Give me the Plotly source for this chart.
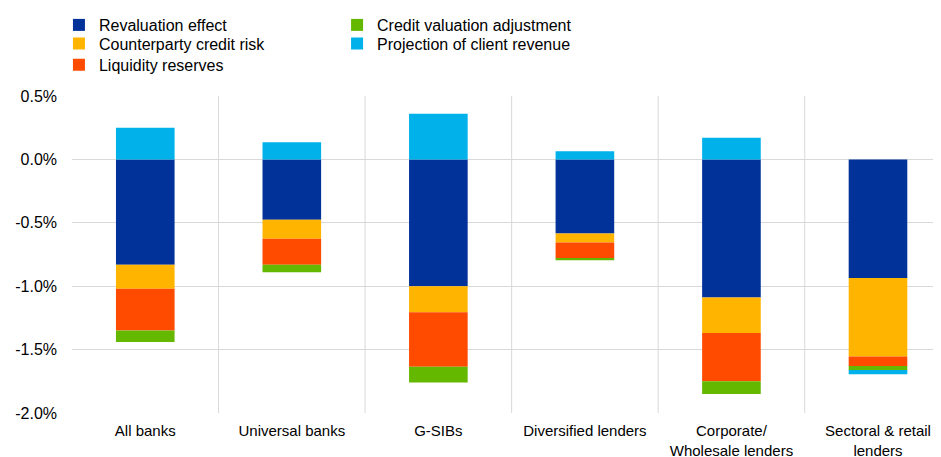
import plotly.graph_objects as go

categories = ["All banks", "Universal banks", "G-SIBs", "Diversified lenders",
              "Corporate/<br>Wholesale lenders", "Sectoral & retail<br>lenders"]
revaluation = [-0.83, -0.475, -1.00, -0.585, -1.09, -0.935]
counterparty = [-0.19, -0.15, -0.205, -0.07, -0.28, -0.62]
liquidity = [-0.33, -0.205, -0.43, -0.125, -0.38, -0.075]
cva = [-0.09, -0.06, -0.125, -0.015, -0.10, -0.03]
projection = [0.25, 0.135, 0.36, 0.065, 0.17, -0.035]
y_ticks = [0.5, 0.0, -0.5, -1.0, -1.5, -2.0]
y_tick_labels = ["0.5%", "0.0%", "-0.5%", "-1.0%", "-1.5%", "-2.0%"]

# (name, values, colour, legend id, legend x, legend y)
series = [
    ("Revaluation effect", revaluation, "#003299", "legend", 0.0546, 1.0105),
    ("Counterparty credit risk", counterparty, "#FFB400", "legend2", 0.0546, 0.9583),
    ("Liquidity reserves", liquidity, "#FF4B00", "legend3", 0.0546, 0.9115),
    ("Credit valuation adjustment", cva, "#65B800", "legend4", 0.3527, 1.0105),
    ("Projection of client revenue", projection, "#00B1EA", "legend5", 0.3527, 0.9583),
]

font = dict(family="Arial, Liberation Sans, sans-serif", size=16, color="#000000")

fig = go.Figure()
legends = {}
for name, vals, color, leg, lx, ly in series:
    fig.add_trace(go.Bar(x=categories, y=vals, name=name, marker_color=color,
                         marker_line_width=0, legend=leg))
    legends[leg] = dict(xref="container", yref="container", x=lx, y=ly,
                        xanchor="left", yanchor="top", orientation="v",
                        font=font, bgcolor="rgba(0,0,0,0)")

fig.update_layout(
    barmode="relative",
    bargap=0.6,
    width=933, height=449,
    margin=dict(l=64, r=0, t=88, b=44, autoexpand=False),
    paper_bgcolor="white", plot_bgcolor="white",
    font=font,
    showlegend=True,
    **legends,
)
fig.update_yaxes(range=[-2.0, 0.5], tickvals=y_ticks, ticktext=y_tick_labels,
                 showgrid=True, gridcolor="#d9d9d9", gridwidth=1,
                 zeroline=False, showline=False, ticks="", ticklabelstandoff=14)
fig.update_xaxes(range=[-0.5, 5.43], showgrid=False, zeroline=False,
                 showline=False, ticks="", tickangle=0, ticklabelstandoff=7,
                 tickfont=dict(family="Arial, Liberation Sans, sans-serif", size=15,
                               color="#000000"))
for i in range(len(categories) - 1):
    fig.add_shape(type="line", xref="x", yref="y", x0=i + 0.5, x1=i + 0.5,
                  y0=-2.0, y1=0.5, line=dict(color="#d9d9d9", width=1), layer="below")

fig.write_html("out.html")
